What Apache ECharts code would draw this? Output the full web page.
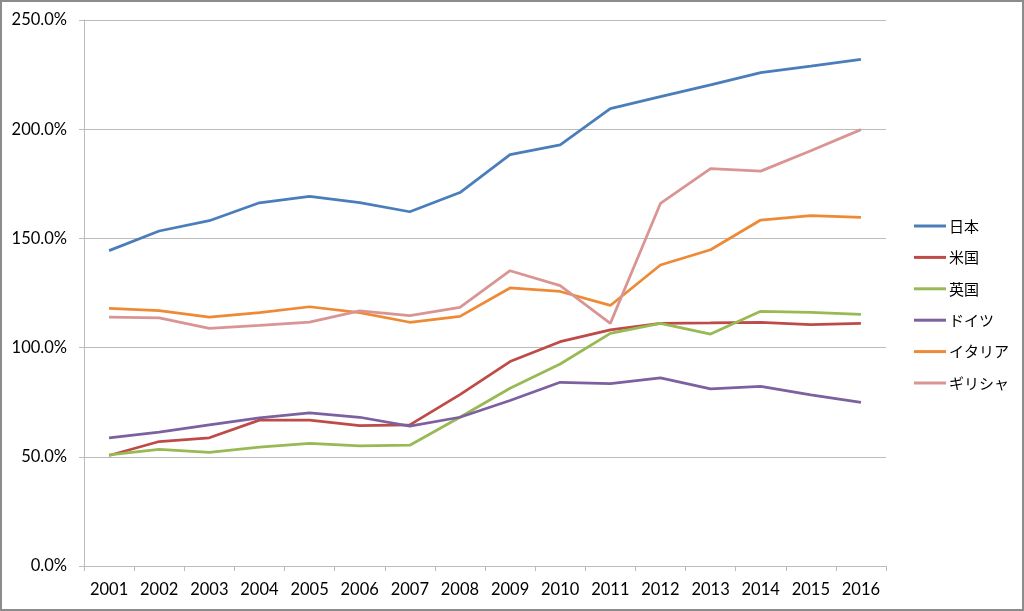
<!DOCTYPE html>
<html>
<head>
<meta charset="utf-8">
<script src="https://cdn.jsdelivr.net/npm/echarts@6/dist/echarts.min.js"></script>
<style>
html,body{margin:0;padding:0;background:#fff;}
#wrap{width:1024px;height:611px;box-sizing:border-box;border:2px solid #8c8c8c;}
#chart{width:1020px;height:607px;}
</style>
</head>
<body>
<div id="wrap"><div id="chart"></div></div>
<script>
const years = ['2001','2002','2003','2004','2005','2006','2007','2008','2009','2010','2011','2012','2013','2014','2015','2016'];
const japan   = [144.4,153.4,158.1,166.3,169.2,166.4,162.2,171.0,188.4,192.8,209.4,214.9,220.3,225.9,228.9,232.0];
const usa     = [50.6,57.0,58.7,66.8,66.8,64.3,64.6,78.5,93.6,102.7,108.1,111.1,111.3,111.6,110.5,111.1];
const uk      = [50.9,53.4,52.0,54.4,56.1,55.0,55.3,68.1,81.4,92.5,106.5,111.1,106.2,116.6,116.1,115.2];
const germany = [58.7,61.3,64.6,67.8,70.1,68.1,64.0,68.1,75.8,84.1,83.5,86.1,81.1,82.2,78.4,74.9];
const italy   = [118.0,116.9,114.0,116.0,118.7,116.0,111.6,114.3,127.3,125.7,119.3,137.8,144.8,158.4,160.4,159.6];
const greece  = [113.9,113.6,108.8,110.2,111.7,116.8,114.6,118.4,135.2,128.4,111.1,166.0,182.0,180.8,190.1,199.8];
const seriesNames = ['日本','米国','英国','ドイツ','イタリア','ギリシャ'];
const seriesData = [japan, usa, uk, germany, italy, greece];
const colors = ['#4A7EBB','#BE4B48','#98B954','#7D60A0','#EE8A35','#D99594'];

const font = 'Lato, "Noto Sans CJK JP", sans-serif';
const chart = echarts.init(document.getElementById('chart'));
chart.setOption({
  animation: false,
  color: colors,
  textStyle: {fontFamily: font},
  grid: {left: 82, right: 136, top: 18, bottom: 43, containLabel: false},
  legend: {
    orient: 'vertical',
    left: 907,
    top: 211,
    icon: 'rect',
    itemWidth: 32,
    itemHeight: 3,
    itemGap: 15.4,
    textStyle: {fontSize: 15, color: '#000', fontFamily: '"Noto Sans CJK JP", sans-serif', lineHeight: 16, padding: [0,0,0,-2]},
    data: seriesNames
  },
  xAxis: {
    type: 'category',
    data: years,
    boundaryGap: true,
    axisLine: {show: true, lineStyle: {color: '#bcbcbc', width: 1}},
    axisTick: {show: true, length: 5, lineStyle: {color: '#bcbcbc'}, interval: 0},
    axisLabel: {fontSize: 16.5, color: '#000', margin: 15, fontFamily: font, interval: 0}
  },
  yAxis: {
    type: 'value',
    min: 0, max: 250, interval: 50,
    axisLine: {show: true, lineStyle: {color: '#bcbcbc', width: 1}},
    axisTick: {show: true, length: 5, lineStyle: {color: '#bcbcbc'}},
    splitLine: {lineStyle: {color: '#bcbcbc', width: 1}},
    axisLabel: {fontSize: 16.5, color: '#000', margin: 17, fontFamily: font,
      formatter: v => v.toFixed(1) + '%'}
  },
  series: seriesNames.map((n, i) => ({
    name: n,
    type: 'line',
    data: seriesData[i],
    symbol: 'none',
    lineStyle: {width: 2.75, color: colors[i]},
    itemStyle: {color: colors[i]}
  }))
});
</script>
</body>
</html>
